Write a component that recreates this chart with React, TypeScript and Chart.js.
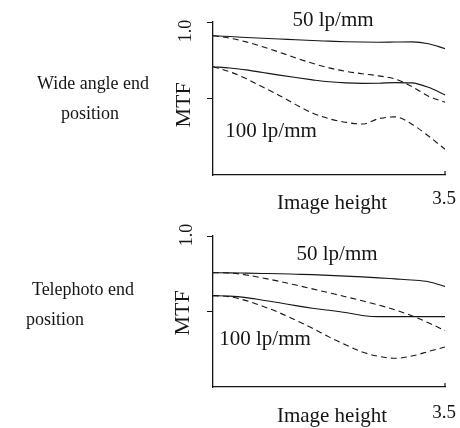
import React, { useEffect, useRef } from "react";
import { Chart, registerables } from "chart.js";

Chart.register(...registerables);

// ---- data ----
const imageHeights = [0, 0.25, 0.5, 0.75, 1, 1.25, 1.5, 1.75, 2, 2.25, 2.5, 2.75, 3, 3.25, 3.5];
const yTickValues = [0, 0.5, 1.0];

// Wide angle end position
const wide50Solid = [0.91, 0.905, 0.899, 0.894, 0.889, 0.884, 0.879, 0.875, 0.871, 0.869, 0.868, 0.869, 0.87, 0.858, 0.826];
const wide50Dashed = [0.91, 0.895, 0.87, 0.838, 0.803, 0.765, 0.73, 0.7, 0.678, 0.662, 0.648, 0.627, 0.578, 0.515, 0.476];
const wide100Solid = [0.708, 0.699, 0.687, 0.67, 0.653, 0.637, 0.622, 0.609, 0.602, 0.599, 0.6, 0.604, 0.602, 0.573, 0.523];
const wide100Dashed = [0.708, 0.675, 0.63, 0.575, 0.52, 0.46, 0.405, 0.368, 0.345, 0.333, 0.368, 0.38, 0.332, 0.255, 0.168];

// Telephoto end position
const tele50Solid = [0.757, 0.756, 0.754, 0.752, 0.75, 0.747, 0.744, 0.739, 0.734, 0.729, 0.723, 0.716, 0.709, 0.697, 0.666];
const tele50Dashed = [0.757, 0.755, 0.742, 0.722, 0.7, 0.675, 0.65, 0.624, 0.598, 0.571, 0.543, 0.51, 0.472, 0.425, 0.374];
const tele100Solid = [0.605, 0.602, 0.592, 0.575, 0.558, 0.539, 0.522, 0.508, 0.493, 0.474, 0.466, 0.466, 0.466, 0.466, 0.466];
const tele100Dashed = [0.605, 0.598, 0.572, 0.535, 0.492, 0.442, 0.389, 0.332, 0.28, 0.232, 0.203, 0.19, 0.205, 0.235, 0.265];

const freqLabels = ["50 lp/mm", "100 lp/mm"];
const yTickText = "1.0";
const xEndText = "3.5";
const xTitle = "Image height";
const yTitle = "MTF";
const wideLines = ["Wide angle end", "position"];
const teleLines = ["Telephoto end", "position"];

const FONT = '"Liberation Serif", "Times New Roman", serif';
const INK = "#151515";

type TextItem = { text: string; x: number; y: number; size: number; rotate?: boolean; maxWidth?: number };

type PanelProps = {
  series: { values: number[]; dashed: boolean }[];
  texts: TextItem[];
  bottomPad: number;
};

function Panel({ series, texts, bottomPad }: PanelProps) {
  const ref = useRef<HTMLCanvasElement | null>(null);
  useEffect(() => {
    const canvas = ref.current;
    if (!canvas) return;
    const textPlugin = {
      id: "figureText",
      afterDraw(chart: any) {
        const ctx = chart.ctx as CanvasRenderingContext2D;
        const xs = chart.scales.x;
        const ys = chart.scales.y;
        ctx.save();
        // small end mark at image height 3.5
        const xe = xs.getPixelForValue(3.5);
        const yb = ys.getPixelForValue(0);
        ctx.strokeStyle = INK;
        ctx.lineWidth = 1.2;
        ctx.beginPath();
        ctx.moveTo(xe, yb);
        ctx.lineTo(xe, yb - 4);
        ctx.stroke();
        ctx.fillStyle = INK;
        ctx.textAlign = "center";
        ctx.textBaseline = "middle";
        for (const t of texts) {
          ctx.font = `${t.size}px ${FONT}`;
          if (t.rotate) {
            ctx.save();
            ctx.translate(t.x, t.y);
            ctx.rotate(-Math.PI / 2);
            ctx.fillText(t.text, 0, 0);
            ctx.restore();
          } else if (t.maxWidth) {
            ctx.fillText(t.text, t.x, t.y, t.maxWidth);
          } else {
            ctx.fillText(t.text, t.x, t.y);
          }
        }
        ctx.restore();
      },
    };
    const chart = new Chart(canvas, {
      type: "line",
      data: {
        datasets: series.map((s, i) => ({
          label: `s${i}`,
          data: imageHeights.map((x, k) => ({ x, y: s.values[k] })),
          borderColor: INK,
          borderWidth: 1.1,
          borderDash: s.dashed ? [6, 4] : [],
          pointRadius: 0,
          fill: false,
          cubicInterpolationMode: "monotone",
        })),
      },
      options: {
        responsive: false,
        animation: false,
        devicePixelRatio: 1,
        layout: { padding: { left: 207, right: 15, top: 22, bottom: bottomPad } },
        plugins: { legend: { display: false }, tooltip: { enabled: false }, title: { display: false } },
        scales: {
          x: {
            type: "linear",
            min: 0,
            max: 3.5,
            grid: { display: false },
            border: { display: true, color: INK, width: 1.3 },
            ticks: { display: false },
            afterFit: (s: any) => {
              s.height = 0;
            },
          },
          y: {
            type: "linear",
            min: 0,
            max: 1,
            afterBuildTicks: (s: any) => {
              s.ticks = yTickValues.map((v) => ({ value: v }));
            },
            grid: {
              display: true,
              drawOnChartArea: false,
              drawTicks: true,
              tickLength: 6,
              color: (c: any) => (c.tick && c.tick.value === 0 ? "rgba(0,0,0,0)" : INK),
              lineWidth: 1,
            },
            border: { display: true, color: INK, width: 1.3 },
            ticks: { display: false },
            afterFit: (s: any) => {
              s.width = 6;
            },
          },
        },
      } as any,
      plugins: [textPlugin],
    });
    return () => chart.destroy();
  }, []);
  return <canvas ref={ref} width={460} height={214} style={{ display: "block", width: 460, height: 214 }} />;
}

export default function App() {
  const wideTexts: TextItem[] = [
    { text: wideLines[0], x: 93, y: 84, size: 18, maxWidth: 112 },
    { text: wideLines[1], x: 90, y: 114, size: 18 },
    { text: freqLabels[0], x: 333, y: 20, size: 21 },
    { text: freqLabels[1], x: 271, y: 131, size: 21 },
    { text: xTitle, x: 332, y: 203, size: 21 },
    { text: xEndText, x: 444, y: 199, size: 19 },
    { text: yTitle, x: 184, y: 105, size: 22, rotate: true },
    { text: yTickText, x: 186, y: 31, size: 18, rotate: true },
  ];
  const teleTexts: TextItem[] = [
    { text: teleLines[0], x: 83, y: 76, size: 18, maxWidth: 103 },
    { text: teleLines[1], x: 55, y: 106, size: 18 },
    { text: freqLabels[0], x: 337, y: 40, size: 21 },
    { text: freqLabels[1], x: 265, y: 125, size: 21 },
    { text: xTitle, x: 332, y: 202, size: 21 },
    { text: xEndText, x: 444, y: 199, size: 19 },
    { text: yTitle, x: 183, y: 99, size: 22, rotate: true },
    { text: yTickText, x: 187, y: 21, size: 18, rotate: true },
  ];
  return (
    <div style={{ position: "absolute", left: 0, top: 0, width: 460, height: 428, background: "#fff" }}>
      <Panel
        series={[
          { values: wide50Solid, dashed: false },
          { values: wide50Dashed, dashed: true },
          { values: wide100Solid, dashed: false },
          { values: wide100Dashed, dashed: true },
        ]}
        texts={wideTexts}
        bottomPad={39}
      />
      <Panel
        series={[
          { values: tele50Solid, dashed: false },
          { values: tele50Dashed, dashed: true },
          { values: tele100Solid, dashed: false },
          { values: tele100Dashed, dashed: true },
        ]}
        texts={teleTexts}
        bottomPad={41}
      />
    </div>
  );
}
